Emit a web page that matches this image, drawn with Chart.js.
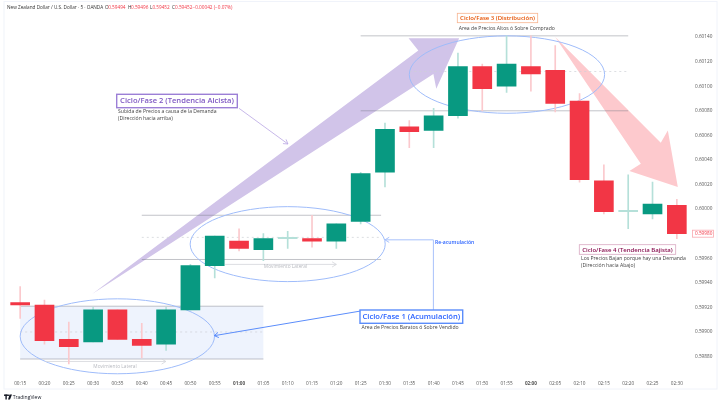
<!DOCTYPE html>
<html>
<head>
<meta charset="utf-8">
<title>NZD/USD ciclos</title>
<script src="https://cdn.jsdelivr.net/npm/chart.js@4"></script>
<style>
  html, body { margin: 0; padding: 0; background: #fff; }
  canvas { display: block; }
</style>
</head>
<body>
<canvas id="chart" width="720" height="405"></canvas>
<script>
// velas de 5 minutos
const times = ['00:15','00:20','00:25','00:30','00:35','00:40','00:45','00:50','00:55','01:00','01:05','01:10','01:15','01:20',
  '01:25','01:30','01:35','01:40','01:45','01:50','01:55','02:00','02:05','02:10','02:15','02:20','02:25','02:30'];
const opens = [.59924,.59922,.59894,.59892,.59918,.59894,.59890,.59918,.59954,.59974,.59967,.59976,.59976,.59974,
  .59990,.60030,.60067,.60064,.60076,.60116,.60100,.60116,.60113,.60088,.60023,.59998,.59996,.60003];
const highs = [.59937,.59926,.59908,.59920,.59918,.59907,.59920,.59955,.59978,.59984,.59980,.59982,.59995,.59988,
  .60030,.60070,.60072,.60082,.60127,.60118,.60141,.60141,.60133,.60094,.60036,.60028,.60022,.60008];
const lows = [.59911,.59890,.59874,.59892,.59894,.59879,.59885,.59918,.59944,.59966,.59958,.59968,.59969,.59968,
  .59988,.60018,.60050,.60050,.60074,.60080,.60095,.60096,.60079,.60022,.59996,.59984,.59992,.59976];
const closes = [.59922,.59893,.59888,.59918,.59894,.59889,.59918,.59954,.59978,.59968,.59976,.59977,.59974,.59988,
  .60029,.60065,.60063,.60076,.60116,.60098,.60118,.60110,.60086,.60024,.59998,.59999,.60004,.59980];
const priceTicks = [.60140,.60120,.60100,.60080,.60060,.60040,.60020,.60000,.59980,.59960,.59940,.59920,.59900,.59880];
const lastPrice = .59980;

const GREEN = '#089981', RED = '#f23645', PALE_GREEN = '#b5e0d9', PALE_RED = '#fbc9cd';
const FONT = '"Open Sans", sans-serif';

const isDoji = i => Math.abs(opens[i] - closes[i]) < .000015;

// dibujos del analista, en [vela, precio]
const levels = [
  { from: 14, to: 25, price: .60141 },
  { from: 14, to: 25, price: .60080 },
  { from: 5, to: 14.84, price: .59995 },
  { from: 5, to: 14.84, price: .59959 },
  { from: 0, to: 10, price: .59921 },
  { from: 0, to: 10, price: .59878 }
];
const midLevels = [
  { from: 16, to: 25, price: .60112 },
  { from: 5, to: 14.84, price: .59977 },
  { from: 0, to: 10, price: .59900 }
];
const ellipses = [
  { from: 0, to: 7.99, top: .59927, bottom: .59866 },
  { from: 6.99, to: 15.01, top: .60002, bottom: .59941 },
  { from: 16, to: 24.03, top: .60141, bottom: .60078 }
];
const upArrow = [[2.96,.59931],[16.37,.60129],[15.97,.60139],[18.05,.60139],[17.11,.60098],[16.99,.60110]];
const downArrow = [[22,.60140],[26.34,.60054],[26.63,.60064],[27.04,.60018],[25.05,.60031],[25.52,.60037]];
const pointers = [
  { color: '#b9a6e3', width: 0.8, points: [[9,.60082],[11.01,.60053]] },
  { color: '#5b8dfb', width: 1, points: [[13.98,.59917],[7.98,.59897]] },
  { color: '#a8c1fb', width: 1, points: [[16.99,.59918],[16.99,.59975],[15,.59975]] },
  { color: '#d4d6da', width: 0.8, points: [[1.03,.59876],[5.99,.59876]] },
  { color: '#d4d6da', width: 0.8, points: [[8.43,.59955],[13,.59955]] }
];
const boxes = [
  { text: 'Ciclo/Fase 2 (Tendencia Alcista)', x: 116.7, y: 94.3, w: 120.6, h: 13.4, size: 7.6, color: '#7e57c2', border: '#9c7fd6', lw: 1.4 },
  { text: 'Ciclo/Fase 1 (Acumulación)', x: 360, y: 310, w: 102.7, h: 13.3, size: 7.6, color: '#2962ff', border: '#5b8dfb', lw: 1.4 },
  { text: 'Ciclo/Fase 3 (Distribución)', x: 457.3, y: 13.3, w: 80.4, h: 9.4, size: 6, color: '#e65100', border: '#f7b48f', lw: 0.8 },
  { text: 'Ciclo/Fase 4 (Tendencia Bajista)', x: 579.3, y: 244.7, w: 96.4, h: 9.6, size: 6, color: '#880e4f', border: '#d9a9c2', lw: 0.8 }
];
const notes = [
  { text: 'Subida de Precios a causa de la Demanda', x: 118, y: 112 },
  { text: '(Dirección hacia arriba)', x: 118, y: 118.7 },
  { text: 'Area de Precios Baratos ó Sobre Vendido', x: 361.5, y: 327.3 },
  { text: 'Area de Precios Altos ó Sobre Comprado', x: 458.7, y: 28.3 },
  { text: 'Los Precios Bajan porque hay una Demanda', x: 581, y: 259 },
  { text: '(Dirección hacia Abajo)', x: 581, y: 265.7 }
];
const header = [
  ['New Zealand Dollar / U.S. Dollar · 5 · OANDA', 7, '#333'],
  ['O', 105, '#333'], ['0.59494', 108.2, RED],
  ['H', 128, '#333'], ['0.59496', 131, RED],
  ['L', 150, '#333'], ['0.59452', 152.4, RED],
  ['C', 172, '#333'], ['0.59452', 175, RED],
  ['−0.00042 (−0.07%)', 192.5, RED]
];

function arrowHead(ctx, from, to, size) {
  const a = Math.atan2(to[1] - from[1], to[0] - from[0]);
  ctx.beginPath();
  ctx.moveTo(to[0] - size * Math.cos(a - .55), to[1] - size * Math.sin(a - .55));
  ctx.lineTo(to[0], to[1]);
  ctx.lineTo(to[0] - size * Math.cos(a + .55), to[1] - size * Math.sin(a + .55));
  ctx.stroke();
}

// zona, niveles, flechas y elipses van debajo de las velas
const drawingsPlugin = {
  id: 'drawings',
  beforeDatasetsDraw(chart) {
    const { ctx, scales: { x, y } } = chart;
    const pt = p => [x.getPixelForValue(p[0]), y.getPixelForValue(p[1])];
    ctx.save();

    ctx.fillStyle = '#eef3fd';
    const zl = x.getPixelForValue(0), zr = x.getPixelForValue(10);
    const zt = y.getPixelForValue(levels[4].price), zb = y.getPixelForValue(levels[5].price);
    ctx.fillRect(zl, zt, zr - zl, zb - zt);

    [[upArrow, '#d1c4e9'], [downArrow, '#fdc9cd']].forEach(([poly, color]) => {
      ctx.fillStyle = color;
      ctx.beginPath();
      poly.forEach((p, i) => {
        const [px, py] = pt(p);
        if (i === 0) ctx.moveTo(px, py); else ctx.lineTo(px, py);
      });
      ctx.closePath();
      ctx.fill();
    });

    ctx.strokeStyle = 'rgba(120,123,134,.45)';
    ctx.lineWidth = 1;
    levels.forEach(l => {
      const py = y.getPixelForValue(l.price);
      ctx.beginPath();
      ctx.moveTo(x.getPixelForValue(l.from), py);
      ctx.lineTo(x.getPixelForValue(l.to), py);
      ctx.stroke();
    });
    ctx.strokeStyle = '#cdd0d6';
    ctx.lineWidth = .7;
    ctx.setLineDash([2, 3]);
    midLevels.forEach(l => {
      const py = y.getPixelForValue(l.price);
      ctx.beginPath();
      ctx.moveTo(x.getPixelForValue(l.from), py);
      ctx.lineTo(x.getPixelForValue(l.to), py);
      ctx.stroke();
    });
    ctx.setLineDash([]);

    ctx.strokeStyle = '#9fbcfa';
    ctx.lineWidth = 1;
    ellipses.forEach(e => {
      const l = x.getPixelForValue(e.from), r = x.getPixelForValue(e.to);
      const t = y.getPixelForValue(e.top), b = y.getPixelForValue(e.bottom);
      ctx.beginPath();
      ctx.ellipse((l + r) / 2, (t + b) / 2, (r - l) / 2, (b - t) / 2, 0, 0, Math.PI * 2);
      ctx.stroke();
    });

    pointers.forEach(p => {
      const pts = p.points.map(pt);
      ctx.strokeStyle = p.color;
      ctx.lineWidth = p.width;
      ctx.beginPath();
      pts.forEach((q, i) => { if (i === 0) ctx.moveTo(q[0], q[1]); else ctx.lineTo(q[0], q[1]); });
      ctx.stroke();
      arrowHead(ctx, pts[pts.length - 2], pts[pts.length - 1], 5);
    });
    ctx.restore();
  },
  afterDraw(chart) {
    const { ctx, scales: { x, y } } = chart;
    ctx.save();

    // marco de TradingView
    ctx.strokeStyle = '#f0f3fa';
    ctx.lineWidth = 1;
    ctx.strokeRect(4, 1.5, 713, 387.5);

    ctx.textBaseline = 'middle';
    ctx.font = '4.7px ' + FONT;
    header.forEach(([t, hx, c]) => {
      ctx.fillStyle = c;
      ctx.fillText(t, hx, 8);
    });

    boxes.forEach(b => {
      ctx.strokeStyle = b.border;
      ctx.lineWidth = b.lw;
      ctx.strokeRect(b.x, b.y, b.w, b.h);
      ctx.fillStyle = b.color;
      ctx.font = '600 ' + b.size + 'px ' + FONT;
      ctx.textAlign = 'center';
      ctx.fillText(b.text, b.x + b.w / 2, b.y + b.h / 2 + .3);
    });

    ctx.textAlign = 'left';
    ctx.fillStyle = '#444';
    ctx.font = '5.1px ' + FONT;
    notes.forEach(n => ctx.fillText(n.text, n.x, n.y));

    ctx.fillStyle = '#2962ff';
    ctx.font = '600 5.1px ' + FONT;
    ctx.fillText('Re-acumulación', 435, 243);

    ctx.fillStyle = '#b8bac0';
    ctx.font = '4.8px ' + FONT;
    ctx.textAlign = 'center';
    ctx.fillText('Movimiento Lateral', x.getPixelForValue(3.9), y.getPixelForValue(.59872));
    ctx.fillText('Movimiento Lateral', x.getPixelForValue(10.91), y.getPixelForValue(.59953));

    // etiqueta del ultimo precio
    const ly = y.getPixelForValue(lastPrice);
    ctx.fillStyle = '#fff';
    ctx.fillRect(692.5, ly - 3.5, 21, 7);
    ctx.strokeStyle = '#f9a9af';
    ctx.lineWidth = .8;
    ctx.strokeRect(692.5, ly - 3.5, 21, 7);
    ctx.fillStyle = RED;
    ctx.font = '4.7px ' + FONT;
    ctx.textAlign = 'left';
    ctx.fillText(lastPrice.toFixed(5), 695, ly + .2);

    // logo y marca
    ctx.fillStyle = '#131722';
    ctx.fillRect(4, 394.5, 4, 1.4);
    ctx.fillRect(5.4, 394.5, 1.4, 5);
    ctx.beginPath();
    ctx.arc(8.6, 395.3, .8, 0, Math.PI * 2);
    ctx.fill();
    ctx.beginPath();
    ctx.moveTo(9.6, 394.5);
    ctx.lineTo(12, 394.5);
    ctx.lineTo(10, 399.5);
    ctx.lineTo(8, 399.5);
    ctx.closePath();
    ctx.fill();
    ctx.font = '5px ' + FONT;
    ctx.fillText('TradingView', 12.7, 397.3);
    ctx.restore();
  }
};

new Chart(document.getElementById('chart'), {
  type: 'bar',
  data: {
    labels: times,
    datasets: [
      {
        label: 'mecha',
        data: times.map((t, i) => [lows[i], highs[i]]),
        backgroundColor: times.map((t, i) => closes[i] >= opens[i] ? PALE_GREEN : PALE_RED),
        barThickness: 1,
        grouped: false,
        order: 2
      },
      {
        label: 'cuerpo',
        data: times.map((t, i) => [opens[i], closes[i]]),
        backgroundColor: times.map((t, i) => isDoji(i) ? PALE_GREEN : closes[i] >= opens[i] ? GREEN : RED),
        barThickness: 19,
        grouped: false,
        order: 1
      }
    ]
  },
  options: {
    responsive: false,
    animation: false,
    events: [],
    layout: { padding: { left: 8, top: 8, right: 0, bottom: 16 } },
    plugins: { legend: { display: false }, tooltip: { enabled: false } },
    scales: {
      x: {
        grid: { display: false, drawTicks: false },
        border: { display: false },
        afterFit: s => { s.height = 14; },
        ticks: {
          autoSkip: false,
          maxRotation: 0,
          padding: 6,
          color: '#555',
          font: ctx => ({ family: FONT, size: 4.7, weight: times[ctx.index].endsWith(':00') ? '700' : '400' })
        }
      },
      y: {
        position: 'right',
        min: .59865,
        max: .60163,
        grid: { display: false, drawTicks: false },
        border: { display: false },
        afterFit: s => { s.width = 31; },
        afterBuildTicks: s => { s.ticks = priceTicks.map(v => ({ value: v })); },
        ticks: {
          padding: 6,
          color: '#555',
          font: { family: FONT, size: 4.7 },
          callback: v => v.toFixed(5)
        }
      }
    }
  },
  plugins: [drawingsPlugin]
});
</script>
</body>
</html>
